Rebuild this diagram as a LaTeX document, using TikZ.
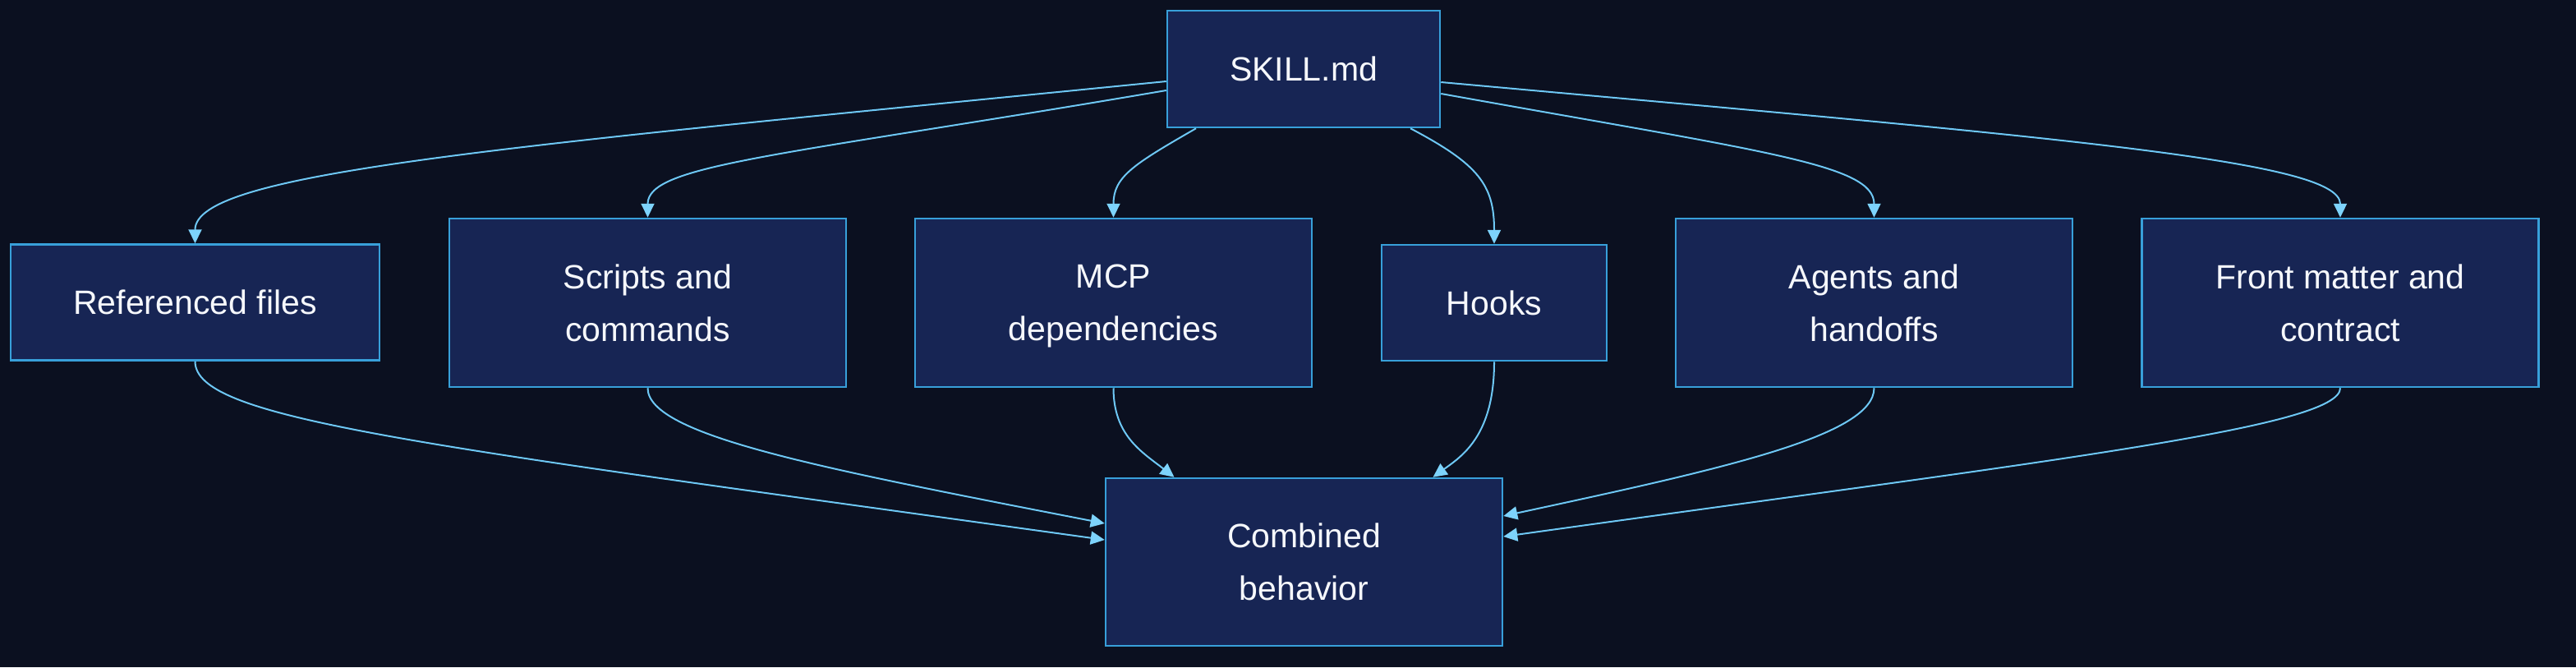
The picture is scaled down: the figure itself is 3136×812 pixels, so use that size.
\documentclass[tikz,border=0pt]{standalone}
\usepackage{fontspec}
\setmainfont{Liberation Sans}
\usetikzlibrary{arrows.meta,calc}
\definecolor{bgc}{RGB}{11,16,32}
\definecolor{boxfill}{RGB}{23,37,84}
\definecolor{boxline}{RGB}{56,160,218}
\definecolor{edgec}{RGB}{110,200,245}
\definecolor{tipc}{RGB}{125,211,252}
\definecolor{txt}{RGB}{246,248,252}
\tikzset{
  box/.style={draw=boxline, fill=boxfill, line width=2.5pt, text=txt, align=center,
    inner sep=0pt, text depth=0pt, font=\fontsize{41}{64}\selectfont},
  conn/.style={draw=edgec, line width=2pt, -{Triangle[length=17pt,width=16pt,fill=tipc,color=tipc]}}
}
\begin{document}
\begin{tikzpicture}[x=1pt,y=-1pt]
\fill[bgc] (0,0) rectangle (3136,812);
\useasboundingbox (0,0) rectangle (3136,812);

\node[box, minimum width=332pt, minimum height=142pt] (skill) at (1587,84) {SKILL.md};
\node[box, minimum width=449pt, minimum height=141pt] (ref) at (237.5,368) {Referenced files};
\node[box, minimum width=483pt, minimum height=205pt] (scripts) at (788.5,368.5) {Scripts and\\commands};
\node[box, minimum width=483pt, minimum height=205pt] (mcp) at (1355.5,368.5) {MCP\\dependencies};
\node[box, minimum width=274pt, minimum height=141pt] (hooks) at (1819,368.5) {Hooks};
\node[box, minimum width=483pt, minimum height=205pt] (agents) at (2281.5,368.5) {Agents and\\handoffs};
\node[box, minimum width=483pt, minimum height=205pt] (front) at (2849,368.5) {Front matter and\\contract};
\node[box, minimum width=483pt, minimum height=204pt] (comb) at (1587.5,684) {Combined\\behavior};

% SKILL.md to the six parts
\draw[conn] ($(skill.west)+(0,15)$) .. controls (600,180) and (237.5,210) .. (ref.north);
\draw[conn] ($(skill.west)+(0,26)$) .. controls (950,190) and (788.5,200) .. (scripts.north);
\draw[conn] ($(skill.south)+(-131,0)$) .. controls (1380,200) and (1355.5,215) .. (mcp.north);
\draw[conn] ($(skill.south)+(130,0)$) .. controls (1800,200) and (1819,225) .. (hooks.north);
\draw[conn] ($(skill.east)+(0,30)$) .. controls (2150,185) and (2281.5,200) .. (agents.north);
\draw[conn] ($(skill.east)+(0,16)$) .. controls (2510,168) and (2849,195) .. (front.north);

% six parts to Combined behavior
\draw[conn] (ref.south) .. controls (237.5,510) and (500,540) .. ($(comb.west)+(0,-27)$);
\draw[conn] (scripts.south) .. controls (788.5,530) and (1000,570) .. ($(comb.west)+(0,-47)$);
\draw[conn] (mcp.south) .. controls (1355.5,530) and (1390,550) .. ($(comb.north)+(-158,0)$);
\draw[conn] (hooks.south) .. controls (1819,530) and (1780,555) .. ($(comb.north)+(157,0)$);
\draw[conn] (agents.south) .. controls (2281.5,530) and (2100,570) .. ($(comb.east)+(0,-56)$);
\draw[conn] (front.south) .. controls (2849,520) and (2500,560) .. ($(comb.east)+(0,-31)$);
\end{tikzpicture}
\end{document}
